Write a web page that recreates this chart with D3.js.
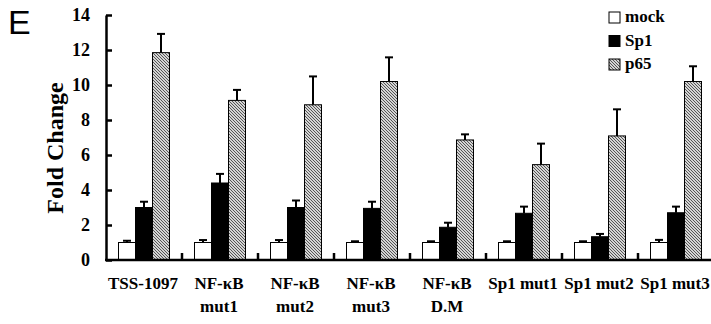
<!DOCTYPE html>
<html>
<head>
<meta charset="utf-8">
<script src="https://cdn.jsdelivr.net/npm/d3@7"></script>
<style>
  html, body { margin: 0; padding: 0; background: #fff; }
  svg { display: block; }
</style>
</head>
<body>
<div id="chart"></div>
<script>
// categories and series
const categories = ["TSS-1097", "NF-κB mut1", "NF-κB mut2", "NF-κB mut3", "NF-κB D.M", "Sp1 mut1", "Sp1 mut2", "Sp1 mut3"]
const labelLines = [["TSS-1097"], ["NF-κB", "mut1"], ["NF-κB", "mut2"], ["NF-κB", "mut3"], ["NF-κB", "D.M"], ["Sp1 mut1"], ["Sp1 mut2"], ["Sp1 mut3"]]
const series = ["mock", "Sp1", "p65"]
// values
const mockValues = [1.0, 1.0, 1.0, 1.0, 1.0, 1.0, 1.0, 1.0]
const mockErrors = [0.1, 0.14, 0.14, 0.07, 0.07, 0.07, 0.07, 0.15]
const sp1Values = [3.0, 4.4, 3.0, 2.95, 1.87, 2.67, 1.33, 2.7]
const sp1Errors = [0.33, 0.52, 0.4, 0.38, 0.26, 0.38, 0.16, 0.35]
const p65Values = [11.85, 9.12, 8.87, 10.2, 6.86, 5.45, 7.09, 10.2]
const p65Errors = [1.07, 0.6, 1.62, 1.38, 0.32, 1.2, 1.52, 0.87]
const yTicks = [0, 2, 4, 6, 8, 10, 12, 14]

const width = 711
const height = 324
const plot = { left: 106, right: 714, top: 15, bottom: 260 }

const data = categories.map((c, i) => ({
    name: c,
    lines: labelLines[i],
    bars: [
        { key: "mock", value: mockValues[i], err: mockErrors[i] },
        { key: "Sp1", value: sp1Values[i], err: sp1Errors[i] },
        { key: "p65", value: p65Values[i], err: p65Errors[i] }
    ]
}))

const svg = d3.select("#chart")
    .append("svg")
    .attr("width", width)
    .attr("height", height)

// hatch for p65
const pat = svg.append("defs").append("pattern")
    .attr("id", "hatch")
    .attr("patternUnits", "userSpaceOnUse")
    .attr("width", 3)
    .attr("height", 3)
pat.append("rect").attr("width", 3).attr("height", 3).attr("fill", "#d4d4d4")
pat.append("path")
    .attr("d", "M-1,2 L1,4 M0,0 L3,3 M2,-1 L4,1")
    .attr("stroke", "#555")
    .attr("stroke-width", 1)

const fills = { mock: "#fff", Sp1: "#000", p65: "url(#hatch)" }

// scales
const x0 = d3.scaleBand().domain(categories).range([plot.left, plot.right]).padding(0)
const x1 = d3.scaleBand().domain(series).range([12.5, x0.bandwidth() - 12.5]).padding(0)
const y = d3.scaleLinear().domain([0, 14]).range([plot.bottom, plot.top])

// bars
const groups = svg.append("g").selectAll("g")
    .data(data)
    .enter().append("g")
    .attr("transform", d => "translate(" + x0(d.name) + ",0)")

groups.selectAll("rect")
    .data(d => d.bars)
    .enter().append("rect")
    .attr("x", d => x1(d.key))
    .attr("y", d => y(d.value))
    .attr("width", x1.bandwidth())
    .attr("height", d => y(0) - y(d.value))
    .attr("fill", d => fills[d.key])
    .attr("stroke", "#000")
    .attr("stroke-width", 1)

// error bars
const errs = groups.selectAll("g.err")
    .data(d => d.bars)
    .enter().append("g")
    .attr("class", "err")
errs.append("line")
    .attr("x1", d => x1(d.key) + x1.bandwidth() / 2)
    .attr("x2", d => x1(d.key) + x1.bandwidth() / 2)
    .attr("y1", d => y(d.value))
    .attr("y2", d => y(d.value + d.err))
    .attr("stroke", "#000")
    .attr("stroke-width", 2)
errs.append("line")
    .attr("x1", d => x1(d.key) + x1.bandwidth() / 2 - 4)
    .attr("x2", d => x1(d.key) + x1.bandwidth() / 2 + 4)
    .attr("y1", d => y(d.value + d.err))
    .attr("y2", d => y(d.value + d.err))
    .attr("stroke", "#000")
    .attr("stroke-width", 2)

// y axis
const yAxis = svg.append("g")
    .attr("transform", "translate(" + plot.left + ",0)")
    .call(d3.axisLeft(y).tickValues(yTicks).tickSizeInner(-6).tickSizeOuter(0).tickPadding(16))
yAxis.select(".domain").attr("stroke-width", 2.5)
yAxis.selectAll(".tick line").attr("stroke-width", 2.5)
yAxis.selectAll("text")
    .attr("font-family", "'Liberation Serif', 'Times New Roman', serif")
    .attr("font-weight", "bold")
    .attr("font-size", 18)
    .attr("fill", "#000")

// x axis
const xAxis = svg.append("g")
    .attr("transform", "translate(0," + plot.bottom + ")")
xAxis.append("line")
    .attr("x1", plot.left - 1)
    .attr("x2", width)
    .attr("stroke", "#000")
    .attr("stroke-width", 2.5)
xAxis.selectAll("line.sep")
    .data(categories.slice(1))
    .enter().append("line")
    .attr("class", "sep")
    .attr("x1", d => x0(d))
    .attr("x2", d => x0(d))
    .attr("y1", 0)
    .attr("y2", -7)
    .attr("stroke", "#000")
    .attr("stroke-width", 2.5)

const xLabels = xAxis.selectAll("text")
    .data(data)
    .enter().append("text")
    .attr("x", d => x0(d.name) + x0.bandwidth() / 2 - 1)
    .attr("y", 29)
    .attr("text-anchor", "middle")
    .attr("font-family", "'Liberation Serif', 'Times New Roman', serif")
    .attr("font-weight", "bold")
    .attr("font-size", 17)
xLabels.selectAll("tspan")
    .data(d => d.lines.map((l, i) => ({ l, i, x: x0(d.name) + x0.bandwidth() / 2 - 1 })))
    .enter().append("tspan")
    .attr("x", d => d.x)
    .attr("dy", d => d.i === 0 ? 0 : 23)
    .text(d => d.l)

// y title
svg.append("text")
    .attr("transform", "translate(55," + 148 + ") rotate(-90)")
    .attr("text-anchor", "middle")
    .attr("dominant-baseline", "central")
    .attr("font-family", "'Liberation Serif', 'Times New Roman', serif")
    .attr("font-weight", "bold")
    .attr("font-size", 24)
    .text("Fold Change")

// panel letter
svg.append("text")
    .attr("x", 8)
    .attr("y", 34)
    .attr("font-family", "'Liberation Sans', Arial, sans-serif")
    .attr("font-size", 34)
    .text("E")

// legend
const legend = svg.append("g")
    .attr("transform", "translate(609,12)")
const items = legend.selectAll("g")
    .data(series)
    .enter().append("g")
    .attr("transform", (d, i) => "translate(0," + i * 23.5 + ")")
items.append("rect")
    .attr("width", 11)
    .attr("height", 11)
    .attr("fill", d => fills[d])
    .attr("stroke", "#000")
    .attr("stroke-width", 1)
items.append("text")
    .attr("x", 16)
    .attr("y", 10)
    .attr("font-family", "'Liberation Serif', 'Times New Roman', serif")
    .attr("font-weight", "bold")
    .attr("font-size", 17)
    .text(d => d)
</script>
</body>
</html>
